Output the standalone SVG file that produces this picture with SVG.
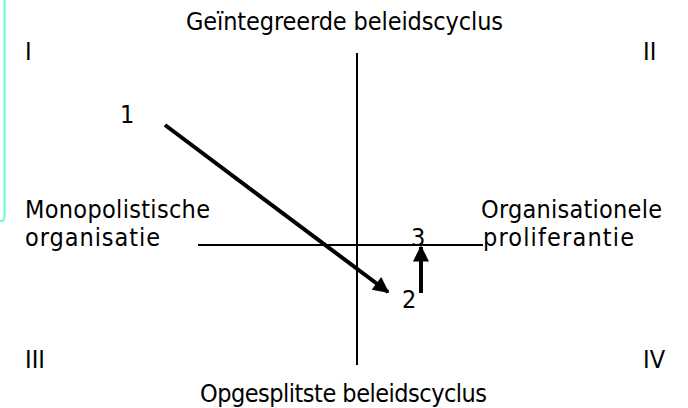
<svg xmlns="http://www.w3.org/2000/svg" width="688" height="408" viewBox="0 0 688 408">
<defs>
<style>
text{font-family:"DejaVu Sans Condensed","DejaVu Sans","Liberation Sans",sans-serif;font-stretch:condensed;font-size:25px;fill:#000}
.axis{stroke:#000;stroke-width:2;fill:none}
.arrow{stroke:#000;stroke-width:4;fill:none}
</style>
<marker id="ah" viewBox="0 0 10 10" refX="9" refY="5" markerUnits="userSpaceOnUse" markerWidth="18" markerHeight="16" orient="auto">
<path d="M0,0 L10,5 L0,10 z" fill="#000"/>
</marker>
</defs>
<rect width="688" height="408" fill="#fff"/>
<path d="M4.5,0 V217 Q4.5,221 0.5,221 H-2" fill="none" stroke="#66FFCC" stroke-width="2"/>
<g id="axes">
<line class="axis" x1="357" y1="53" x2="357" y2="365"/>
<line class="axis" x1="198" y1="245" x2="483" y2="245"/>
</g>
<g id="connectors">
<line class="arrow" x1="165" y1="125" x2="388" y2="292" marker-end="url(#ah)"/>
<line class="arrow" x1="421" y1="293" x2="421" y2="247" marker-end="url(#ah)"/>
</g>
<g id="labels">
<text x="186" y="30" textLength="317" lengthAdjust="spacing">Geïntegreerde beleidscyclus</text>
<text x="200" y="402" textLength="287" lengthAdjust="spacing">Opgesplitste beleidscyclus</text>
<text x="25" y="218" textLength="185" lengthAdjust="spacing">Monopolistische</text>
<text x="25" y="246" textLength="135" lengthAdjust="spacing">organisatie</text>
<text x="481" y="218" textLength="181" lengthAdjust="spacing">Organisationele</text>
<text x="483" y="246" textLength="151" lengthAdjust="spacing">proliferantie</text>
<text x="25" y="60">I</text>
<text x="643" y="60">II</text>
<text x="25" y="368">III</text>
<text x="643" y="368">IV</text>
<text x="120" y="123">1</text>
<text x="402" y="308">2</text>
<text x="411" y="246">3</text>
</g>
</svg>
